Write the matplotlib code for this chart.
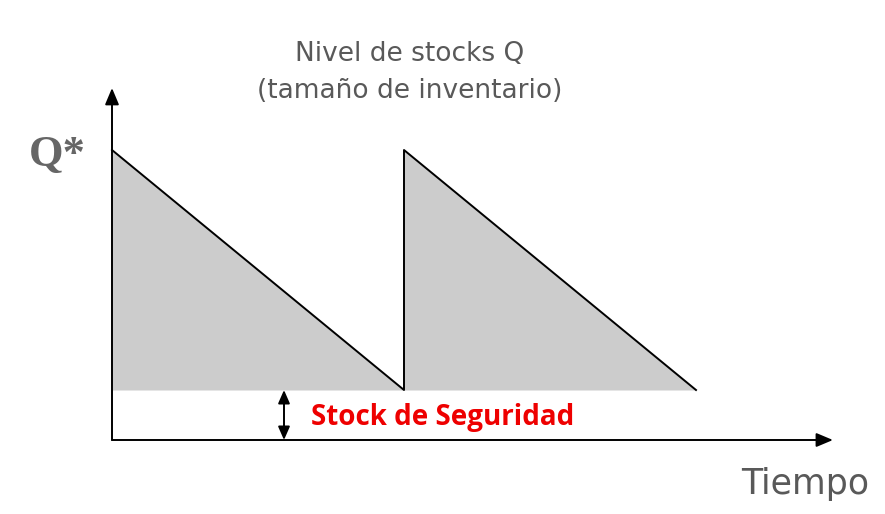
import matplotlib
matplotlib.use("Agg")
import matplotlib.pyplot as plt

# Data
cycle_times = [0, 1, 1, 2]          # time (cycles)
stock_levels = [5.8, 1.0, 5.8, 1.0] # inventory level
safety_stock = 1.0
q_star = 5.8
axis_x_end = 2.469
axis_y_end = 7.04

title_text = "Nivel de stocks Q\n(tamaño de inventario)"
qstar_label = "Q*"
ss_label = "Stock de Seguridad"
x_label = "Tiempo"

fig = plt.figure(figsize=(8.85, 5.14), dpi=100)
ax = fig.add_axes([0, 0, 1, 1])
ax.set_xlim(-112/292, (885-112)/292)
ax.set_ylim(-74/50, 440/50)
ax.axis("off")

# gray fill between safety stock and sawtooth
ax.fill_between(cycle_times, safety_stock, stock_levels, color="#cccccc", lw=0, zorder=1)
ax.plot(cycle_times, stock_levels, color="black", lw=1.4, zorder=3)

# axes arrows
ax.annotate("", xy=(0, axis_y_end), xytext=(0, 0),
            arrowprops=dict(arrowstyle="-|>,head_length=1.0,head_width=0.42", color="black", lw=1.4, shrinkA=0, shrinkB=0), zorder=4)
ax.annotate("", xy=(axis_x_end, 0), xytext=(0, 0),
            arrowprops=dict(arrowstyle="-|>,head_length=1.0,head_width=0.42", color="black", lw=1.4, shrinkA=0, shrinkB=0), zorder=4)

# safety stock double arrow
xa = (284-112)/292
ax.annotate("", xy=(xa, safety_stock), xytext=(xa, 0),
            arrowprops=dict(arrowstyle="<|-|>,head_length=0.8,head_width=0.35", color="black", lw=1.4, shrinkA=0, shrinkB=0), zorder=4)

ax.text((410-112)/292, (440-72)/50, title_text, ha="center", va="center",
        fontsize=19, color="#595959", family="DejaVu Sans", linespacing=1.55)
ax.text((57-112)/292, (440-155)/50, qstar_label, ha="center", va="center",
        fontsize=32, fontweight="bold", color="#666666", family="Liberation Serif")
ax.text((443-112)/292, (440-417)/50, ss_label, ha="center", va="center",
        fontsize=20, fontweight="bold", color="#ee0000", family="Open Sans")
ax.text((805-112)/292, (440-484)/50, x_label, ha="center", va="center",
        fontsize=25, color="#595959", family="DejaVu Sans")

fig.savefig("out.png", dpi=100)
